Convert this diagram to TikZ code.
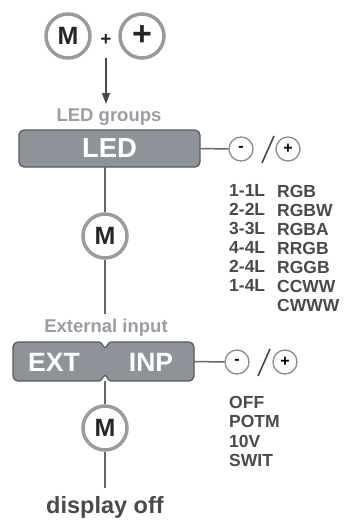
\documentclass[tikz,border=0pt]{standalone}
\usepackage{fontspec}
\setmainfont{Liberation Sans}
\usetikzlibrary{arrows.meta}
\definecolor{ringgray}{HTML}{9B9B9B}
\definecolor{boxgray}{HTML}{8E9299}
\definecolor{boxedge}{HTML}{585B60}
\definecolor{labgray}{HTML}{9A9DA3}
\definecolor{txtdark}{HTML}{4A4A4A}
\definecolor{linegray}{HTML}{666666}
\newcommand{\pxfont}[1]{\fontsize{#1}{#1}\selectfont}
\begin{document}
\begin{tikzpicture}[x=1pt,y=-1pt,
  mcirc/.style={circle,draw=ringgray,line width=3.5pt,minimum size=44pt,inner sep=0pt,font=\pxfont{25}\bfseries,text=black!85},
  pmcirc/.style={circle,draw=ringgray!90!black,line width=1.3pt,minimum size=24pt,inner sep=0pt,font=\pxfont{16}\bfseries,text=black},
  grouplab/.style={font=\pxfont{18.5}\bfseries,text=labgray,inner sep=0pt},
  boxtxt/.style={font=\pxfont{27.5}\bfseries,text=white,inner sep=0pt},
  listtxt/.style={font=\pxfont{17.5}\bfseries,text=txtdark,anchor=west,inner sep=0pt},
  conn/.style={draw=linegray,line width=1.5pt},
  slashln/.style={draw=txtdark,line width=1.6pt},
  arrowln/.style={draw=txtdark,line width=1.4pt,-{Triangle[length=11pt,width=8pt]}}
]
\useasboundingbox (0,0) rectangle (350,520);

% top keys
\node[mcirc] (mA) at (68,36) {M};
\node[mcirc,font=\pxfont{34}\bfseries] (pA) at (142,36) {+};
\node[font=\pxfont{19}\bfseries,text=black!85,inner sep=0pt] (plusA) at (106,40) {+};
\coordinate (arrS) at (106,58);
\coordinate (arrE) at (106,104);
\draw[arrowln] (arrS) -- (arrE);

% LED group
\node[grouplab] (ledlab) at (109,117) {LED groups};
\node[boxtxt,draw=boxedge,fill=boxgray,line width=1.3pt,rounded corners=5pt,minimum width=181pt,minimum height=37pt] (led) at (109.5,148.5) {LED};
\node[pmcirc] (ledm) at (241,149) {-};
\node[pmcirc] (ledp) at (288,149) {+};
\draw[conn] (led.east) -- (ledm.west);
\coordinate (ledS1) at (262,163);
\coordinate (ledS2) at (274,136);
\draw[slashln] (ledS1) -- (ledS2);

\node[listtxt] (l1a) at (229,190) {1-1L};
\node[listtxt] (l1b) at (277,191.5) {RGB};
\node[listtxt] (l2a) at (229,209) {2-2L};
\node[listtxt] (l2b) at (277,210.5) {RGBW};
\node[listtxt] (l3a) at (229,228) {3-3L};
\node[listtxt] (l3b) at (277,229.5) {RGBA};
\node[listtxt] (l4a) at (229,247) {4-4L};
\node[listtxt] (l4b) at (277,248.5) {RRGB};
\node[listtxt] (l5a) at (229,266) {2-4L};
\node[listtxt] (l5b) at (277,267.5) {RGGB};
\node[listtxt] (l6a) at (229,285) {1-4L};
\node[listtxt] (l6b) at (277,286.5) {CCWW};
\node[listtxt] (l7b) at (277,305.5) {CWWW};

% LED -> M -> EXT
\node[mcirc] (mB) at (105,236) {M};
\coordinate (ledB) at (105,167);
\coordinate (extT) at (105,314);
\draw[conn] (ledB) -- (mB);
\draw[conn] (mB) -- (extT);

% EXT box
\node[grouplab] (extlab) at (106,328) {External input};
\draw[draw=boxedge,fill=boxgray,line width=1.3pt]
  (18,342) -- (99,342) .. controls (102,342) and (103,347.5) .. (105,347.5)
  .. controls (107,347.5) and (108,342) .. (111,342) -- (189,342)
  arc[start angle=-90,end angle=0,radius=5] -- (194,376)
  arc[start angle=0,end angle=90,radius=5] -- (111,381)
  .. controls (108,381) and (107,375.5) .. (105,375.5)
  .. controls (103,375.5) and (102,381) .. (99,381) -- (18,381)
  arc[start angle=90,end angle=180,radius=5] -- (13,347)
  arc[start angle=180,end angle=270,radius=5] -- cycle;
\node[boxtxt,font=\pxfont{26.5}\bfseries] (ext) at (54,362) {EXT};
\node[boxtxt,font=\pxfont{26.5}\bfseries] (inp) at (151,362) {INP};
\coordinate (extR) at (194,361.5);
\node[pmcirc] (extm) at (237,362) {-};
\node[pmcirc] (extp) at (285,362) {+};
\draw[conn] (extR) -- (extm.west);
\coordinate (extS1) at (258,376);
\coordinate (extS2) at (270,349);
\draw[slashln] (extS1) -- (extS2);

\node[listtxt] (o1) at (229,402) {OFF};
\node[listtxt] (o2) at (229,421.5) {POTM};
\node[listtxt] (o3) at (229,441) {10V};
\node[listtxt] (o4) at (229,460.5) {SWIT};

% bottom
\coordinate (extB) at (105,381);
\node[mcirc] (mC) at (105,428) {M};
\coordinate (dispT) at (105,488);
\draw[conn] (extB) -- (mC);
\draw[conn] (mC) -- (dispT);
\node[font=\pxfont{23.5}\bfseries,text=txtdark,inner sep=0pt] (disp) at (105,507) {display off};
\end{tikzpicture}
\end{document}
